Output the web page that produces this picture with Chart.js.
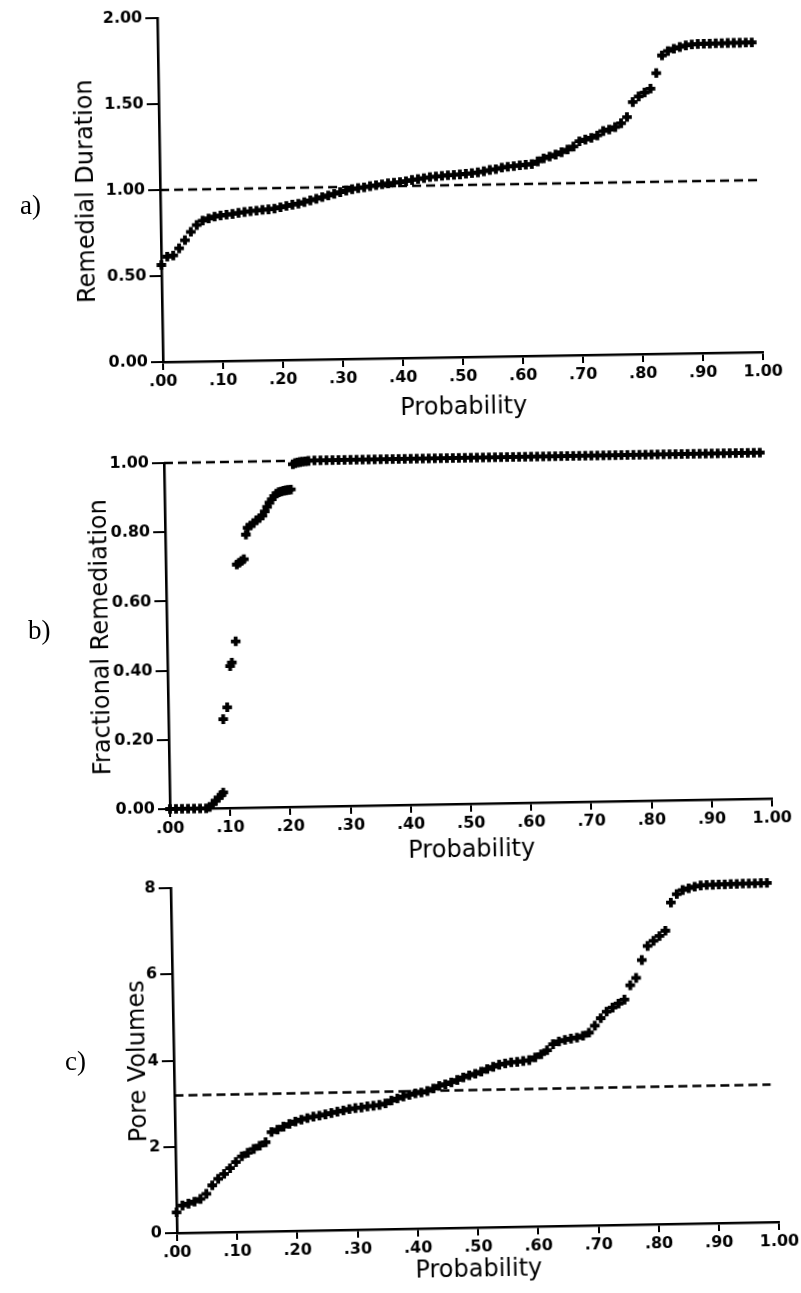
<!DOCTYPE html>
<html>
<head>
<meta charset="utf-8">
<script src="https://cdn.jsdelivr.net/npm/chart.js@4.4.1/dist/chart.umd.min.js"></script>
<style>
  html, body { margin: 0; padding: 0; background: #fff; }
  body { width: 801px; height: 1293px; position: relative; overflow: hidden; }
  canvas { position: absolute; left: 0; }
  .tag { position: absolute; font-family: "Liberation Serif", "DejaVu Serif", serif; font-size: 27px; line-height: 1; color: #000; }
</style>
</head>
<body>
<canvas id="panelA" width="801" height="430" style="top:0px"></canvas>
<canvas id="panelB" width="801" height="440" style="top:430px"></canvas>
<canvas id="panelC" width="801" height="423" style="top:870px"></canvas>
<div class="tag" style="left:20px; top:192px">a)</div>
<div class="tag" style="left:28px; top:617px">b)</div>
<div class="tag" style="left:65px; top:1048px">c)</div>

<script>
// ---- data -------------------------------------------------------------
// cumulative probability grid shared by panels a) and c)
const probGrid = [
  0.00, 0.01, 0.02, 0.03, 0.04, 0.05, 0.06, 0.07, 0.08, 0.09,
  0.10, 0.11, 0.12, 0.13, 0.14, 0.15, 0.16, 0.17, 0.18, 0.19,
  0.20, 0.21, 0.22, 0.23, 0.24, 0.25, 0.26, 0.27, 0.28, 0.29,
  0.30, 0.31, 0.32, 0.33, 0.34, 0.35, 0.36, 0.37, 0.38, 0.39,
  0.40, 0.41, 0.42, 0.43, 0.44, 0.45, 0.46, 0.47, 0.48, 0.49,
  0.50, 0.51, 0.52, 0.53, 0.54, 0.55, 0.56, 0.57, 0.58, 0.59,
  0.60, 0.61, 0.62, 0.63, 0.64, 0.65, 0.66, 0.67, 0.68, 0.69,
  0.70, 0.71, 0.72, 0.73, 0.74, 0.75, 0.76, 0.77, 0.78, 0.79,
  0.80, 0.81, 0.82, 0.83, 0.84, 0.85, 0.86, 0.87, 0.88, 0.89,
  0.90, 0.91, 0.92, 0.93, 0.94, 0.95, 0.96, 0.97, 0.98, 0.99
];

// a) remedial duration
const remedialDuration = [
  0.564, 0.612, 0.618, 0.659, 0.706, 0.754, 0.793, 0.818, 0.830, 0.840,
  0.846, 0.850, 0.854, 0.860, 0.864, 0.868, 0.871, 0.875, 0.877, 0.881,
  0.888, 0.895, 0.902, 0.907, 0.916, 0.925, 0.934, 0.943, 0.952, 0.961,
  0.970, 0.979, 0.986, 0.992, 0.996, 1.002, 1.007, 1.012, 1.017, 1.020,
  1.023, 1.028, 1.034, 1.039, 1.044, 1.049, 1.052, 1.055, 1.058, 1.060,
  1.062, 1.065, 1.068, 1.072, 1.078, 1.085, 1.089, 1.097, 1.102, 1.105,
  1.109, 1.112, 1.115, 1.130, 1.147, 1.157, 1.168, 1.181, 1.196, 1.213,
  1.243, 1.252, 1.262, 1.275, 1.300, 1.308, 1.322, 1.344, 1.379, 1.466,
  1.498, 1.520, 1.542, 1.632, 1.734, 1.759, 1.772, 1.781, 1.790, 1.795,
  1.797, 1.798, 1.798, 1.799, 1.799, 1.800, 1.800, 1.800, 1.801, 1.801
];
const durationReference = 1.00;

// b) fractional remediation
const probB = [
  0.000, 0.010, 0.020, 0.030, 0.040, 0.050, 0.060, 0.066, 0.071, 0.076,
  0.081, 0.086, 0.089, 0.091, 0.098, 0.104, 0.107, 0.114, 0.118, 0.122,
  0.126, 0.130, 0.134, 0.137, 0.142, 0.147, 0.152, 0.157, 0.162, 0.166,
  0.170, 0.174, 0.178, 0.182, 0.186, 0.190, 0.194, 0.198, 0.202, 0.206,
  0.210, 0.214, 0.218, 0.222, 0.226, 0.230, 0.235, 0.240,
  0.25, 0.26, 0.27, 0.28, 0.29, 0.30, 0.31, 0.32, 0.33, 0.34,
  0.35, 0.36, 0.37, 0.38, 0.39, 0.40, 0.41, 0.42, 0.43, 0.44,
  0.45, 0.46, 0.47, 0.48, 0.49, 0.50, 0.51, 0.52, 0.53, 0.54,
  0.55, 0.56, 0.57, 0.58, 0.59, 0.60, 0.61, 0.62, 0.63, 0.64,
  0.65, 0.66, 0.67, 0.68, 0.69, 0.70, 0.71, 0.72, 0.73, 0.74,
  0.75, 0.76, 0.77, 0.78, 0.79, 0.80, 0.81, 0.82, 0.83, 0.84,
  0.85, 0.86, 0.87, 0.88, 0.89, 0.90, 0.91, 0.92, 0.93, 0.94,
  0.95, 0.96, 0.97, 0.98, 0.99
];
const fractionalRemediation = [
  0.000, 0.000, 0.000, 0.000, 0.000, 0.000, 0.000, 0.004, 0.012, 0.022,
  0.030, 0.038, 0.045, 0.257, 0.291, 0.410, 0.420, 0.481, 0.703, 0.708,
  0.713, 0.718, 0.789, 0.809, 0.815, 0.822, 0.830, 0.836, 0.843, 0.855,
  0.868, 0.880, 0.890, 0.899, 0.906, 0.910, 0.912, 0.914, 0.915, 0.916,
  0.917, 0.990, 0.993, 0.995, 0.996, 0.997, 0.998, 0.999,
  1.0, 1.0, 1.0, 1.0, 1.0, 1.0, 1.0, 1.0, 1.0, 1.0,
  1.0, 1.0, 1.0, 1.0, 1.0, 1.0, 1.0, 1.0, 1.0, 1.0,
  1.0, 1.0, 1.0, 1.0, 1.0, 1.0, 1.0, 1.0, 1.0, 1.0,
  1.0, 1.0, 1.0, 1.0, 1.0, 1.0, 1.0, 1.0, 1.0, 1.0,
  1.0, 1.0, 1.0, 1.0, 1.0, 1.0, 1.0, 1.0, 1.0, 1.0,
  1.0, 1.0, 1.0, 1.0, 1.0, 1.0, 1.0, 1.0, 1.0, 1.0,
  1.0, 1.0, 1.0, 1.0, 1.0, 1.0, 1.0, 1.0, 1.0, 1.0,
  1.0, 1.0, 1.0, 1.0, 1.0
];
const remediationReference = 1.00;
const remediationReferenceEnd = 0.205;

// c) pore volumes
const poreVolumes = [
  0.480, 0.635, 0.675, 0.720, 0.780, 0.895, 1.090, 1.237, 1.350, 1.480,
  1.620, 1.750, 1.830, 1.916, 1.990, 2.066, 2.300, 2.354, 2.420, 2.480,
  2.535, 2.575, 2.610, 2.640, 2.660, 2.687, 2.715, 2.744, 2.770, 2.800,
  2.820, 2.833, 2.855, 2.866, 2.885, 2.915, 2.980, 3.025, 3.070, 3.105,
  3.135, 3.154, 3.185, 3.240, 3.300, 3.335, 3.375, 3.430, 3.485, 3.530,
  3.565, 3.610, 3.670, 3.720, 3.765, 3.790, 3.815, 3.824, 3.840, 3.857,
  3.920, 3.990, 4.080, 4.218, 4.280, 4.312, 4.340, 4.360, 4.400, 4.470,
  4.630, 4.800, 4.950, 5.040, 5.130, 5.220, 5.550, 5.720, 6.130, 6.455,
  6.570, 6.680, 6.800, 7.450, 7.645, 7.737, 7.775, 7.810, 7.835, 7.845,
  7.847, 7.850, 7.850, 7.855, 7.855, 7.860, 7.860, 7.860, 7.865, 7.865
];
const poreReference = 3.19;
const poreReferenceEnd = 0.99;

// axis ticks
const probTicks = [0, 0.1, 0.2, 0.3, 0.4, 0.5, 0.6, 0.7, 0.8, 0.9, 1.0];
const probTickLabels = ['.00', '.10', '.20', '.30', '.40', '.50', '.60', '.70', '.80', '.90', '1.00'];
const durationTicks = [0, 0.5, 1.0, 1.5, 2.0];
const durationTickLabels = ['0.00', '0.50', '1.00', '1.50', '2.00'];
const remediationTicks = [0, 0.2, 0.4, 0.6, 0.8, 1.0];
const remediationTickLabels = ['0.00', '0.20', '0.40', '0.60', '0.80', '1.00'];
const poreTicks = [0, 2, 4, 6, 8];
const poreTickLabels = ['0', '2', '4', '6', '8'];

// ---- drawing ----------------------------------------------------------
const ink = '#000';
const tickFont = { family: 'DejaVu Sans', size: 16, weight: 'bold' };
const titleFont = { family: 'DejaVu Sans', size: 24, weight: 'normal' };

function pairs(xs, ys) {
  return xs.map((x, i) => ({ x: x, y: ys[i] }));
}

function makePanel(id, p) {
  const el = document.getElementById(id);
  el.style.transformOrigin = p.origin[0] + 'px ' + p.origin[1] + 'px';
  el.style.transform = 'rotate(' + (-p.tilt) + 'deg)';
  return new Chart(el, {
    type: 'scatter',
    data: {
      datasets: [
        {
          data: p.points,
          pointStyle: 'cross',
          pointRadius: 4.8,
          borderWidth: 3.8,
          borderColor: ink,
          backgroundColor: ink,
          showLine: false,
          clip: false
        },
        {
          type: 'line',
          data: p.dash,
          borderColor: ink,
          borderWidth: 2.5,
          borderDash: [9, 5],
          pointRadius: 0,
          fill: false,
          clip: false
        }
      ]
    },
    options: {
      responsive: false,
      animation: false,
      devicePixelRatio: 1,
      events: [],
      layout: { padding: p.padding },
      plugins: { legend: { display: false }, tooltip: { enabled: false } },
      scales: {
        x: {
          type: 'linear', min: 0, max: 1,
          afterBuildTicks: s => { s.ticks = probTicks.map(v => ({ value: v })); },
          afterFit: s => { s.height = p.xh; },
          ticks: {
            autoSkip: false, maxRotation: 0, minRotation: 0, padding: 2,
            color: ink, font: tickFont,
            callback: (v, i) => probTickLabels[i]
          },
          grid: { drawOnChartArea: false, drawTicks: true, tickLength: 8, color: ink, lineWidth: 2 },
          border: { display: true, color: ink, width: 2.6 },
          title: { display: true, text: 'Probability', color: ink, font: titleFont, padding: 0 }
        },
        y: {
          type: 'linear', min: p.yTicks[0], max: p.yTicks[p.yTicks.length - 1],
          afterBuildTicks: s => { s.ticks = p.yTicks.map(v => ({ value: v })); },
          afterFit: s => { s.width = p.yw; },
          ticks: {
            autoSkip: false, padding: 3, color: ink, font: tickFont,
            callback: (v, i) => p.yLabels[i]
          },
          grid: { drawOnChartArea: false, drawTicks: true, tickLength: 12, color: ink, lineWidth: 2 },
          border: { display: true, color: ink, width: 2.6 },
          title: { display: true, text: p.yTitle, color: ink, font: titleFont, padding: 0 }
        }
      }
    }
  });
}

makePanel('panelA', {
  points: pairs(probGrid, remedialDuration),
  dash: [{ x: 0, y: durationReference }, { x: 1, y: durationReference }],
  yTicks: durationTicks, yLabels: durationTickLabels,
  yTitle: 'Remedial Duration',
  padding: { left: 75, top: 18, right: 38, bottom: 3 },
  yw: 88, xh: 65,
  origin: [163, 362], tilt: 0.95
});

makePanel('panelB', {
  points: pairs(probB, fractionalRemediation),
  dash: [{ x: 0, y: remediationReference }, { x: remediationReferenceEnd, y: remediationReference }],
  yTicks: remediationTicks, yLabels: remediationTickLabels,
  yTitle: 'Fractional Remediation',
  padding: { left: 90, top: 33, right: 29, bottom: 0 },
  yw: 80, xh: 61,
  origin: [170, 379], tilt: 1.0
});

makePanel('panelC', {
  points: pairs(probGrid, poreVolumes),
  dash: [{ x: 0, y: poreReference }, { x: poreReferenceEnd, y: poreReference }],
  yTicks: poreTicks, yLabels: poreTickLabels,
  yTitle: 'Pore Volumes',
  padding: { left: 127, top: 18, right: 21, bottom: 3 },
  yw: 50, xh: 57,
  origin: [177, 363.5], tilt: 1.05
});
</script>
</body>
</html>
